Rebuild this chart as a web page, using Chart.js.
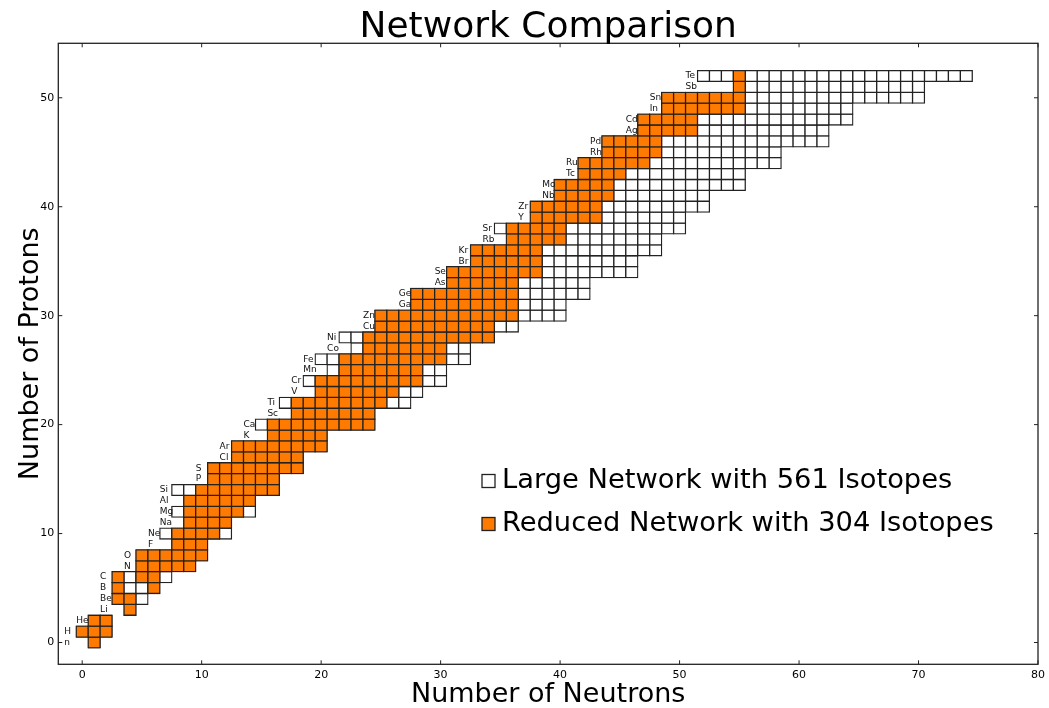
<!DOCTYPE html>
<html>
<head>
<meta charset="utf-8">
<script src="https://cdn.jsdelivr.net/npm/chart.js@4/dist/chart.umd.min.js"></script>
<style>
  html, body { margin: 0; padding: 0; background: #fff; }
  canvas { display: block; }
</style>
</head>
<body>
<canvas id="chart" width="1049" height="708"></canvas>
<script>
// Element symbol for each proton number Z = 0 .. 52
const elements = ['n','H','He','Li','Be','B','C','N','O','F','Ne','Na','Mg','Al','Si','P','S','Cl','Ar','K',
  'Ca','Sc','Ti','V','Cr','Mn','Fe','Co','Ni','Cu','Zn','Ga','Ge','As','Se','Br','Kr','Rb','Sr','Y',
  'Zr','Nb','Mo','Tc','Ru','Rh','Pd','Ag','Cd','In','Sn','Sb','Te'];

// Large network: lightest and heaviest neutron number kept for each Z
const largeNMin = [1,0,1,4,3,3,3,5,5,8,7,9,8,9,8,11,11,13,13,16,15,18,17,20,19,21,20,23,22,25,25,28,28,31,31,33,33,36,35,38,38,40,40,42,42,44,44,47,47,49,49,55,52];
const largeNMax = [1,2,2,4,5,6,7,9,10,10,12,12,14,14,16,16,18,18,20,20,24,24,27,28,30,30,32,32,34,36,40,40,42,42,46,46,48,48,50,50,52,52,55,55,58,58,62,62,64,64,70,70,74];

// Reduced network: neutron number range for each Z
const reducedNMin = [1,0,1,4,3,3,3,5,5,8,8,9,9,9,10,11,11,13,13,16,16,18,18,20,20,22,22,24,24,25,25,28,28,31,31,33,33,36,36,38,38,40,40,42,42,44,44,47,47,49,49,55,55];
const reducedNMax = [1,2,2,4,4,6,6,9,10,10,11,12,13,14,16,16,18,18,20,20,24,24,25,26,28,28,30,30,34,34,36,36,36,36,38,38,38,40,40,43,43,44,44,45,47,48,48,51,51,55,55,55,55];
// [Z, N] pairs inside those ranges that the reduced network leaves out
const reducedGaps = [[5, 4], [5, 5], [6, 4]];

const xTicks = [0, 10, 20, 30, 40, 50, 60, 70, 80];
const yTicks = [0, 10, 20, 30, 40, 50];
const seriesLabels = ['Large Network with 561 Isotopes', 'Reduced Network with 304 Isotopes'];
const seriesColors = ['#ffffff', '#ff7a00'];

const FONT = "'DejaVu Sans', 'Liberation Sans', sans-serif";
const EDGE = '#222';

// One floating bar per isotope: spans N-0.5 .. N+0.5 on the neutron axis at row Z
function cells(nMin, nMax, gaps) {
  const out = [];
  for (let z = 0; z < elements.length; z++) {
    for (let n = nMin[z]; n <= nMax[z]; n++) {
      if (gaps && gaps.some(([gz, gn]) => gz === z && gn === n)) continue;
      out.push({ x: [n - 0.5, n + 0.5], y: z });
    }
  }
  return out;
}

// Labels are shared by element pairs (odd Z with the next even Z) and sit left of the pair's first cell
function labelGroup(z) {
  if (z <= 1) return [0, 1];
  if (z === 2) return [2, 2];
  const first = z % 2 ? z : z - 1;
  return [first, first + 1];
}

const decorations = {
  id: 'decorations',
  afterDatasetsDraw(chart) {
    const { ctx, scales: { x, y } } = chart;
    ctx.save();
    ctx.font = '9px ' + FONT;
    ctx.fillStyle = '#111';
    ctx.textAlign = 'left';
    ctx.textBaseline = 'middle';
    elements.forEach((el, z) => {
      const [a, b] = labelGroup(z);
      const nStart = Math.min(...largeNMin.slice(a, Math.min(b, elements.length - 1) + 1));
      ctx.fillText(el, x.getPixelForValue(nStart - 1.5), y.getPixelForValue(z));
    });
    ctx.restore();
  },
  afterDraw(chart) {
    const { ctx, chartArea: area, scales: { x, y } } = chart;
    ctx.save();

    // axes frame
    ctx.strokeStyle = EDGE;
    ctx.lineWidth = 1.3;
    ctx.strokeRect(area.left, area.top, area.right - area.left, area.bottom - area.top);

    // inward tick marks on all four sides
    const tl = 4;
    ctx.lineWidth = 1;
    ctx.beginPath();
    x.ticks.forEach(t => {
      const px = x.getPixelForValue(t.value);
      ctx.moveTo(px, area.bottom); ctx.lineTo(px, area.bottom - tl);
      ctx.moveTo(px, area.top); ctx.lineTo(px, area.top + tl);
    });
    y.ticks.forEach(t => {
      const py = y.getPixelForValue(t.value);
      ctx.moveTo(area.left, py); ctx.lineTo(area.left + tl, py);
      ctx.moveTo(area.right, py); ctx.lineTo(area.right - tl, py);
    });
    ctx.stroke();

    // title and axis titles
    const cx = (area.left + area.right) / 2;
    const cy = (area.top + area.bottom) / 2;
    ctx.fillStyle = '#000';
    ctx.textAlign = 'center';
    ctx.textBaseline = 'middle';
    ctx.font = '36px ' + FONT;
    ctx.fillText('Network Comparison', cx, 28);
    ctx.font = '27px ' + FONT;
    ctx.fillText('Number of Neutrons', cx, 695);
    ctx.save();
    ctx.translate(31, cy);
    ctx.rotate(-Math.PI / 2);
    ctx.fillText('Number of Protons', 0, 0);
    ctx.restore();

    // legend
    const rows = [481, 524];
    ctx.textAlign = 'left';
    ctx.font = '27.3px ' + FONT;
    chart.data.datasets.forEach((ds, i) => {
      const ry = rows[i];
      ctx.fillStyle = ds.backgroundColor;
      ctx.fillRect(482, ry - 6.5, 13, 13);
      ctx.strokeStyle = EDGE;
      ctx.lineWidth = 1.3;
      ctx.strokeRect(482, ry - 6.5, 13, 13);
      ctx.fillStyle = '#000';
      ctx.fillText(ds.label, 502, ry);
    });
    ctx.restore();
  }
};

Chart.defaults.font.family = FONT;
Chart.defaults.color = '#000';

const cellStyle = {
  stack: 'cells',
  borderColor: EDGE,
  borderWidth: 1.3,
  inflateAmount: 0.65,
  borderSkipped: false,
  categoryPercentage: 1,
  barPercentage: 1
};

new Chart(document.getElementById('chart'), {
  type: 'bar',
  data: {
    datasets: [
      Object.assign({ label: seriesLabels[0], data: cells(largeNMin, largeNMax), backgroundColor: seriesColors[0], order: 2 }, cellStyle),
      Object.assign({ label: seriesLabels[1], data: cells(reducedNMin, reducedNMax, reducedGaps), backgroundColor: seriesColors[1], order: 1 }, cellStyle)
    ]
  },
  options: {
    indexAxis: 'y',
    responsive: false,
    animation: false,
    devicePixelRatio: 1,
    layout: { padding: { top: 43.3, right: 9, bottom: 0, left: 0 } },
    plugins: {
      legend: { display: false },
      tooltip: { enabled: false },
      title: { display: false }
    },
    scales: {
      x: {
        type: 'linear', position: 'bottom', min: -2, max: 80, stacked: false, offset: false,
        grid: { display: false, drawTicks: false }, border: { display: false },
        ticks: { padding: 4, font: { size: 11 }, color: '#000', maxRotation: 0 },
        afterBuildTicks: s => { s.ticks = xTicks.map(v => ({ value: v })); },
        afterFit: s => { s.height = 43.7; }
      },
      y: {
        type: 'linear', position: 'left', min: -2, max: 55, offset: false,
        grid: { display: false, drawTicks: false }, border: { display: false },
        ticks: { padding: 4, font: { size: 11 }, color: '#000' },
        afterBuildTicks: s => { s.ticks = yTicks.map(v => ({ value: v })); },
        afterFit: s => { s.width = 58.3; }
      }
    }
  },
  plugins: [decorations]
});
</script>
</body>
</html>
